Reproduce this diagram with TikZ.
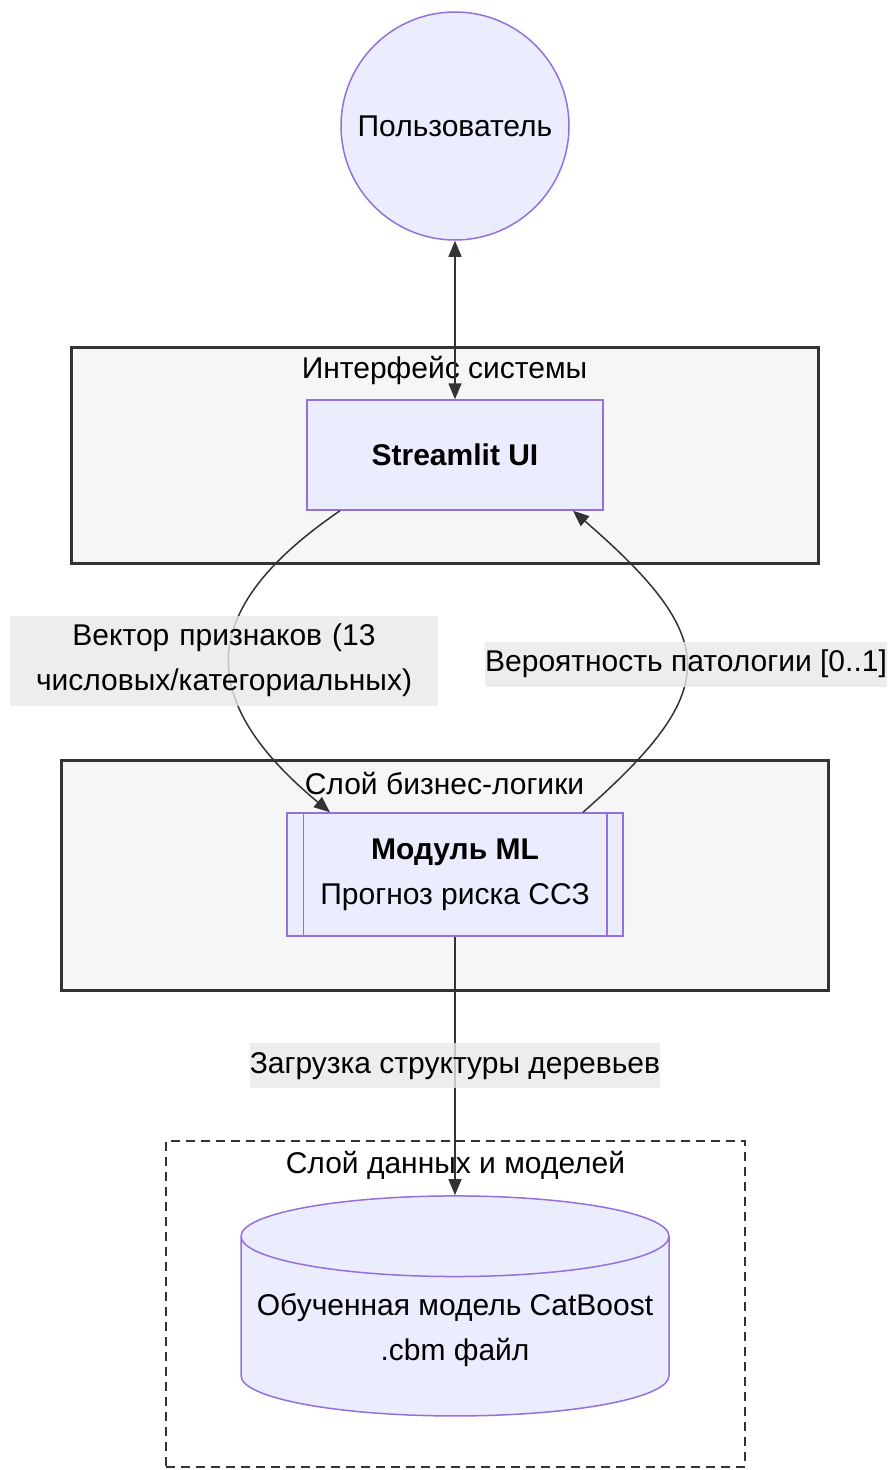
\documentclass[tikz,border=0pt]{standalone}
\usepackage{fontspec}
\setmainfont{Liberation Sans}
\usetikzlibrary{shapes.geometric, arrows.meta, positioning, calc}
\definecolor{nodefill}{HTML}{ECECFF}
\definecolor{nodeline}{HTML}{9370DB}
\definecolor{edgeline}{HTML}{333333}
\definecolor{labelbg}{HTML}{E8E8E8}
\definecolor{layerbg}{HTML}{F6F6F6}

\tikzset{
  mmd/.tip={Triangle[length=16pt, width=13pt]},
  box/.style={draw=nodeline, fill=nodefill, line width=1.5pt, align=center},
  layer/.style={draw=edgeline, fill=layerbg, line width=3pt},
  datalayer/.style={draw=edgeline, fill=white, line width=1.5pt, dash pattern=on 9pt off 6pt},
  ttl/.style={inner sep=0pt},
  conn/.style={draw=edgeline, line width=1.5pt, -mmd},
  lbl/.style={fill=labelbg, fill opacity=0.8, text opacity=1, inner sep=0pt, minimum height=45, align=center}
}

\begin{document}
\begin{tikzpicture}[x=1pt, y=-1pt, font=\fontsize{30}{45}\selectfont]
  \useasboundingbox (0,0) rectangle (890,1470);

  % Layers
  \node[layer, minimum width=747, minimum height=216] (ifc) at (444.5,455) {};
  \node[ttl] (ifcT) at ([yshift=-25pt]ifc.north) {Интерфейс системы};
  \node[layer, minimum width=767, minimum height=230] (biz) at (444.5,875) {};
  \node[ttl] (bizT) at ([yshift=-25pt]biz.north) {Слой бизнес-логики};
  \node[datalayer, minimum width=579, minimum height=326] (dat) at (455.5,1304) {};
  \node[ttl] (datT) at ([yshift=-25pt]dat.north) {Слой данных и моделей};

  % Nodes
  \node[box, circle, minimum size=228] (user) at (455,126) {Пользователь};
  \node[box, minimum width=296, minimum height=110] (ui) at (455,455) {\textbf{Streamlit UI}};
  \node[box, minimum width=336, minimum height=123] (ml) at (455,874.5) {\textbf{Модуль ML}\\Прогноз риска ССЗ};
  \draw[nodeline, line width=1.5pt] ([xshift=17pt]ml.north west) -- ([xshift=17pt]ml.south west)
    ([xshift=-17pt]ml.north east) -- ([xshift=-17pt]ml.south east);
  \node[box, cylinder, shape border rotate=90, aspect=0.2, minimum width=428, minimum height=220] (model) at (455,1330)
    {Обученная модель CatBoost\\.cbm файл};

  % Connectors
  \draw[conn, mmd-mmd] (user) -- (ui);
  \draw[conn] ([xshift=-115pt]ui.south) .. controls (195,610) and (195,700) .. ([xshift=-125pt]ml.north)
    node[lbl, pos=0.5, xshift=-6pt, yshift=-4pt, text width=428, minimum height=90] (vecL) {Вектор признаков (13\\числовых/категориальных)};
  \draw[conn] ([xshift=128pt]ml.north) .. controls (722,690) and (722,640) .. ([xshift=118pt]ui.south)
    node[lbl, pos=0.5] (probL) {Вероятность патологии [0..1]};
  \draw[conn] (ml) -- (model) node[lbl, midway] (loadL) {Загрузка структуры деревьев};
\end{tikzpicture}
\end{document}
